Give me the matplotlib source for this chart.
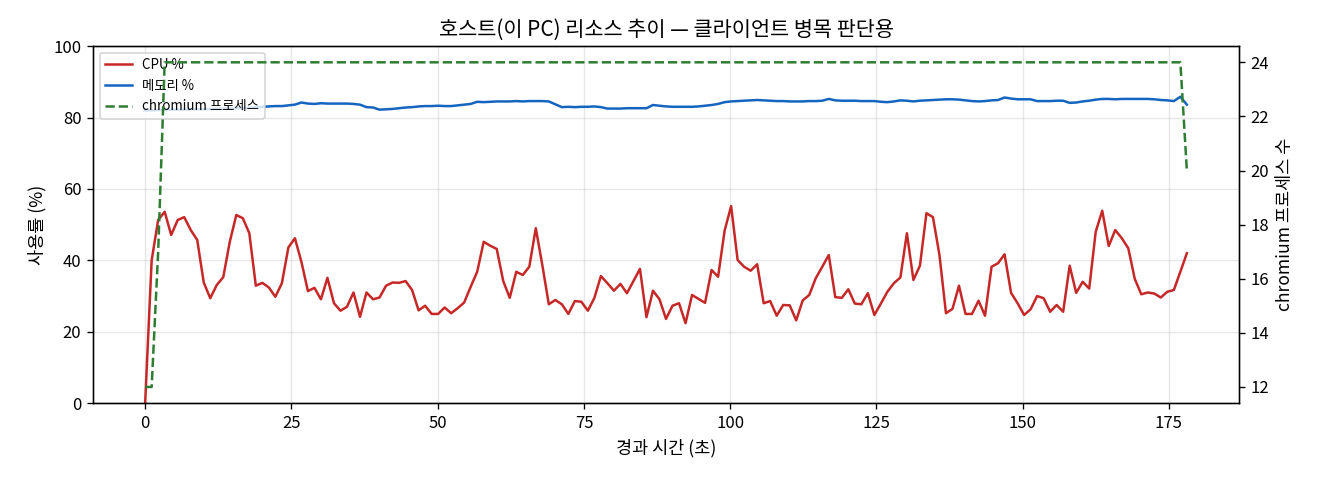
import numpy as np
import matplotlib
matplotlib.use("Agg")
import matplotlib.pyplot as plt

plt.rcParams['font.family'] = ['Noto Sans CJK KR', 'DejaVu Sans']
plt.rcParams['axes.unicode_minus'] = False

SAMPLE_INTERVAL_S = 1.113

cpu_pct = [
    0.0,
    40.0, 51.3, 53.6, 47.1, 51.3, 52.1, 48.5, 45.7, 33.8, 29.4,
    33.1, 35.3, 45.2, 52.7, 51.8, 47.6, 32.9, 33.7, 32.4, 29.8,
    33.6, 43.6, 46.2, 39.6, 31.4, 32.3, 29.1, 35.1, 28.0, 25.9,
    27.0, 31.0,
    24.2, 31.0, 29.1, 29.6, 32.9, 33.8, 33.7, 34.2, 31.7, 26.0,
    27.3, 25.0, 25.0, 26.8, 25.2, 26.6, 28.2, 32.6, 36.8, 45.2,
    44.1, 43.2, 34.2, 29.5, 36.8, 35.9, 38.2, 49.0, 38.7, 27.7,
    28.9, 27.7,
    25.0, 28.6, 28.4, 25.9, 29.5, 35.6, 33.6, 31.5, 33.4, 30.8,
    34.2, 37.6, 24.1, 31.5, 29.1, 23.6, 27.3, 28.0, 22.4, 30.3,
    29.2, 28.1, 37.3, 35.4, 48.3, 55.2, 40.1, 38.2, 37.1, 38.9,
    28.0, 28.6,
    24.5, 27.5, 27.4, 23.2, 28.8, 30.3, 35.0, 38.2, 41.5, 29.7,
    29.5, 31.9, 27.9, 27.7, 30.8, 24.7, 27.9, 31.2, 33.6, 35.2,
    47.6, 34.5, 38.5, 53.2, 52.1, 41.5, 25.2, 26.4, 32.9, 25.0,
    25.0, 28.7,
    24.5, 38.2, 39.2, 41.7, 30.9, 28.0, 24.7, 26.3, 30.0, 29.4,
    25.6, 27.5, 25.6, 38.5, 30.9, 34.0, 32.1, 48.0, 53.9, 44.0,
    48.5, 46.2, 43.4, 34.8, 30.5, 31.0, 30.7, 29.6, 31.2, 31.7,
    36.8, 42.0,
]

mem_pct = [
    82.0, 82.0, 82.1, 82.1, 82.2, 82.2, 82.2, 82.3, 82.3, 82.3,
    82.4, 82.4, 82.5, 82.5, 82.6, 82.6, 82.7, 82.8, 83.0, 83.1,
    83.2, 83.2, 83.4, 83.6, 84.2, 83.9, 83.8, 84.0, 83.9, 83.9,
    83.9, 83.9, 83.8, 83.6, 82.9, 82.8, 82.2, 82.3, 82.4, 82.6,
    82.8, 82.9, 83.1, 83.2, 83.2, 83.3, 83.2, 83.2, 83.4, 83.6,
    83.8, 84.4, 84.3, 84.4, 84.5, 84.5, 84.5, 84.6, 84.5, 84.6,
    84.6, 84.6, 84.5, 83.7, 82.9, 83.0, 82.9, 83.0, 83.0, 83.1,
    82.9, 82.5, 82.5, 82.5, 82.6, 82.6, 82.6, 82.6, 83.5, 83.3,
    83.1, 83.0, 83.0, 83.0, 83.0, 83.1, 83.3, 83.5, 83.8, 84.3,
    84.5, 84.6, 84.7, 84.8, 84.9, 84.8, 84.7, 84.6, 84.6, 84.5,
    84.5, 84.5, 84.6, 84.6, 84.7, 85.2, 84.8, 84.7, 84.7, 84.7,
    84.6, 84.6, 84.6, 84.4, 84.3, 84.5, 84.8, 84.7, 84.5, 84.7,
    84.8, 84.9, 85.0, 85.1, 85.1, 85.0, 84.8, 84.6, 84.5, 84.6,
    84.8, 84.9, 85.6, 85.3, 85.1, 85.1, 85.1, 84.6, 84.6, 84.6,
    84.7, 84.7, 84.1, 84.2, 84.5, 84.7, 85.0, 85.2, 85.2, 85.1,
    85.2, 85.2, 85.2, 85.2, 85.2, 85.1, 84.9, 84.8, 84.6, 85.8,
    83.6,
]

chromium_procs = [12, 12, 17] + [24] * 157 + [20]

elapsed_s = np.arange(len(cpu_pct)) * SAMPLE_INTERVAL_S

fig, ax = plt.subplots(figsize=(11, 4), dpi=120)
fig.subplots_adjust(left=0.0705, right=0.9386, top=0.904, bottom=0.160)

l1, = ax.plot(elapsed_s, cpu_pct, color='#c62828', lw=1.5, label='CPU %')
l2, = ax.plot(elapsed_s, mem_pct, color='#1565c0', lw=1.5, label='메모리 %')
ax.set_ylim(0, 100)
ax.set_xlabel('경과 시간 (초)', fontsize=10.5)
ax.set_ylabel('사용률 (%)', fontsize=10.5)
ax.grid(True, alpha=0.3)
ax.tick_params(labelsize=10)

ax2 = ax.twinx()
l3, = ax2.plot(elapsed_s, chromium_procs, color='#2e7d32', lw=1.5, ls='--',
               label='chromium 프로세스')
ax2.set_ylabel('chromium 프로세스 수', fontsize=10.5)
ax2.tick_params(labelsize=10)

ax.set_title('호스트(이 PC) 리소스 추이 — 클라이언트 병목 판단용', fontsize=12.5)
ax.legend(handles=[l1, l2, l3], loc='upper left', fontsize=8)

fig.savefig('out.png', dpi=120)
